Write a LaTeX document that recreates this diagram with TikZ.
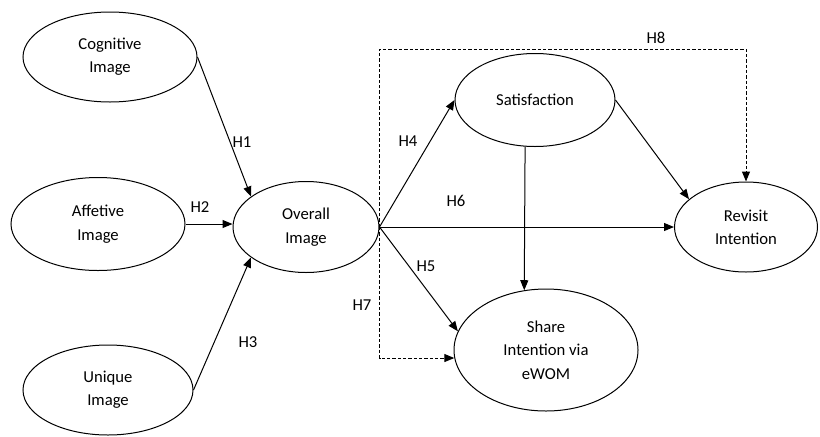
\documentclass[tikz,border=0pt]{standalone}
\usepackage{fontspec}
\setmainfont{Carlito}
\usetikzlibrary{shapes}
\usetikzlibrary{arrows.meta}

\begin{document}
\begin{tikzpicture}[x=0.75pt,y=-0.75pt,
				construct/.style={draw,ellipse,inner sep=0pt,align=center,line width=0.75pt,font=\fontsize{12.5}{17.5}\selectfont},
				link/.style={-{Triangle[length=7.5pt,width=6pt]},line width=0.75pt},
				hyp/.style={font=\fontsize{12.5}{14}\selectfont}]
				    \useasboundingbox (0,0) rectangle (820,436);
				    % Place nodes
				    \node [construct,minimum width=130.5pt,minimum height=67.5pt] (cog) at (110,57) {Cognitive\\Image};
				    \node [construct,minimum width=130.5pt,minimum height=69.75pt] (aff) at (98,224) {Affetive\\Image};
				    \node [construct,minimum width=127.5pt,minimum height=67.5pt] (uniq) at (108,390) {Unique\\Image};
				    \node [construct,minimum width=109.5pt,minimum height=68.25pt] (overall) at (306,227) {Overall\\Image};
				    \node [construct,minimum width=120pt,minimum height=69.75pt] (sat) at (535,100) {Satisfaction};
				    \node [construct,minimum width=107.25pt,minimum height=67.5pt] (rev) at (746,227) {Revisit\\Intention};
				    \node [construct,minimum width=138pt,minimum height=91.5pt] (share) at (546,350) {Share\\Intention via\\eWOM};

				    % Hypothesis labels
				    \node [hyp] (h1) at (242,142) {H1};
				    \node [hyp] (h2) at (200,207) {H2};
				    \node [hyp] (h3) at (248,342) {H3};
				    \node [hyp] (h4) at (408,141) {H4};
				    \node [hyp] (h5) at (426,266) {H5};
				    \node [hyp] (h6) at (456,201) {H6};
				    \node [hyp] (h7) at (362,305) {H7};
				    \node [hyp] (h8) at (656,38) {H8};

				    % Paths
				    \draw [link] (cog.east) -- (overall.151);
				    \draw [link] (aff.east) -- (aff.east -| overall.west);
				    \draw [link] (uniq.east) -- (overall.209);
				    \draw [link] (overall.east) -- (sat.west);
				    \draw [link] (overall.east) -- (rev.west);
				    \draw [link] (overall.east) -- (share.168);
				    \draw [link] (sat.258) -- (share.110);
				    \draw [link] (sat.east) -- (rev.154);
				    \draw [link,dash pattern=on 2.5pt off 1.5pt] (overall.east) -- ++(0,-178) -| (rev.north);
				    \draw [link,dash pattern=on 2.5pt off 1.5pt] (overall.east) |- (share.185);

				\end{tikzpicture}
\end{document}
